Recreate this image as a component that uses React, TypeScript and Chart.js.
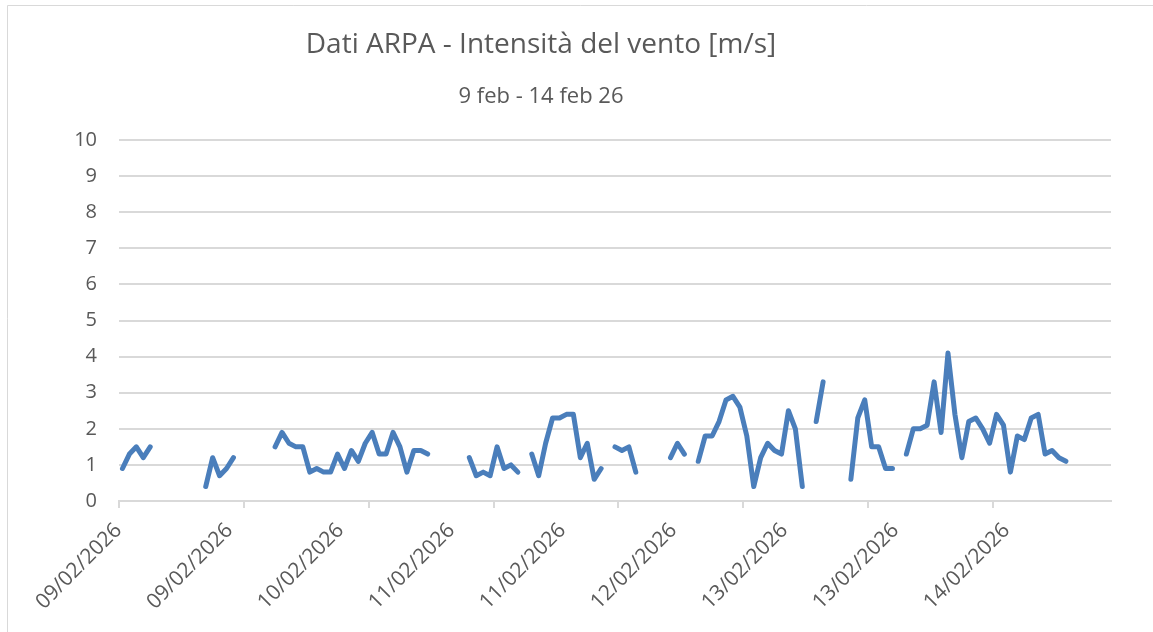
import React, { useEffect, useRef } from 'react';
import { Chart, registerables } from 'chart.js';

Chart.register(...registerables);

const TITLE = 'Dati ARPA - Intensità del vento [m/s]';
const SUBTITLE = '9 feb - 14 feb 26';

const DAYS = ['09/02/2026', '10/02/2026', '11/02/2026', '12/02/2026', '13/02/2026', '14/02/2026'];
const HOURS_PER_DAY = 24;
const CATEGORY_COUNT = 143;
const LABEL_EVERY = 16;
const TICK_EVERY = 18;

const categories: string[] = [];
for (let i = 0; i < CATEGORY_COUNT; i++) {
  categories.push(DAYS[Math.floor(i / HOURS_PER_DAY)]);
}

const windSpeed: (number | null)[] = [
  0.9, 1.3, 1.5, 1.2, 1.5,
  null, null, null, null, null, null, null,
  0.4, 1.2, 0.7, 0.9, 1.2,
  null, null, null, null, null,
  1.5, 1.9, 1.6, 1.5, 1.5, 0.8, 0.9, 0.8, 0.8, 1.3, 0.9, 1.4, 1.1, 1.6, 1.9, 1.3, 1.3, 1.9, 1.5, 0.8, 1.4, 1.4, 1.3,
  null, null, null, null, null,
  1.2, 0.7, 0.8, 0.7, 1.5, 0.9, 1.0, 0.8,
  null,
  1.3, 0.7, 1.6, 2.3, 2.3, 2.4, 2.4, 1.2, 1.6, 0.6, 0.9,
  null,
  1.5, 1.4, 1.5, 0.8,
  null, null, null, null,
  1.2, 1.6, 1.3,
  null,
  1.1, 1.8, 1.8, 2.2, 2.8, 2.9, 2.6, 1.8, 0.4, 1.2, 1.6, 1.4, 1.3, 2.5, 2.0, 0.4,
  null,
  2.2, 3.3,
  null, null, null,
  0.6, 2.3, 2.8, 1.5, 1.5, 0.9, 0.9,
  null,
  1.3, 2.0, 2.0, 2.1, 3.3, 1.9, 4.1, 2.4, 1.2, 2.2, 2.3, 2.0, 1.6, 2.4, 2.1, 0.8, 1.8, 1.7, 2.3, 2.4, 1.3, 1.4, 1.2, 1.1,
  null, null, null, null, null, null,
];

const Y_MIN = 0;
const Y_MAX = 10;
const Y_STEP = 1;

const W = 1153;
const H = 632;
const FONT = "'Open Sans', sans-serif";
const TEXT = '#595959';
const GRID = '#d9d9d9';
const LINE = '#4a7ebb';

const PAD_LEFT = -29;
const PLOT_LEFT = 119;
const PLOT_BOTTOM = 501;

const frame = {
  id: 'frame',
  beforeDraw(chart: any) {
    const c = chart.ctx;
    c.save();
    c.fillStyle = '#ffffff';
    c.fillRect(0, 0, chart.width, chart.height);
    c.strokeStyle = GRID;
    c.lineWidth = 1;
    c.beginPath();
    c.moveTo(7.5, chart.height);
    c.lineTo(7.5, 5.5);
    c.lineTo(chart.width, 5.5);
    c.stroke();
    c.restore();
  },
};

export default function App() {
  const ref = useRef<HTMLCanvasElement | null>(null);

  useEffect(() => {
    if (!ref.current) return;
    const chart = new Chart(ref.current, {
      type: 'line',
      data: {
        labels: categories,
        datasets: [
          {
            label: 'Intensità del vento',
            data: windSpeed,
            borderColor: LINE,
            backgroundColor: LINE,
            borderWidth: 5,
            borderCapStyle: 'round',
            borderJoinStyle: 'round',
            pointRadius: 0,
            pointHoverRadius: 0,
            tension: 0,
            spanGaps: false,
          },
        ],
      },
      plugins: [frame],
      options: {
        responsive: false,
        animation: false,
        layout: { padding: { left: PAD_LEFT, right: 42, top: 0, bottom: 0 } },
        plugins: {
          legend: { display: false },
          tooltip: { enabled: false },
          title: {
            display: true,
            text: TITLE,
            color: TEXT,
            font: { family: FONT, size: 28, weight: 'normal', lineHeight: 1.2 },
            padding: { top: 28, bottom: 0 },
          },
          subtitle: {
            display: true,
            text: SUBTITLE,
            color: TEXT,
            font: { family: FONT, size: 22, weight: 'normal', lineHeight: 1.2 },
            padding: { top: 22, bottom: 30 },
          },
        },
        scales: {
          x: {
            type: 'category',
            offset: true,
            afterFit: (s: any) => {
              s.height = H - PLOT_BOTTOM;
            },
            grid: {
              offset: true,
              drawOnChartArea: false,
              drawTicks: true,
              tickLength: 7,
              lineWidth: 2,
              color: (ctx: any) => (ctx.index % TICK_EVERY === 0 ? GRID : 'rgba(0,0,0,0)'),
            },
            border: { display: true, color: GRID, width: 2 },
            ticks: {
              autoSkip: false,
              maxRotation: 45,
              minRotation: 45,
              padding: 10,
              labelOffset: -4,
              color: TEXT,
              font: { family: FONT, size: 21 },
              callback: (_v: any, i: number) => (i % LABEL_EVERY === 0 ? categories[i] : ''),
            },
          },
          y: {
            min: Y_MIN,
            max: Y_MAX,
            afterFit: (s: any) => {
              s.width = PLOT_LEFT - PAD_LEFT;
            },
            grid: { color: GRID, lineWidth: 2, drawTicks: false },
            border: { display: false },
            ticks: {
              stepSize: Y_STEP,
              padding: 22,
              color: TEXT,
              font: { family: FONT, size: 20 },
            },
          },
        },
      },
    });
    return () => chart.destroy();
  }, []);

  return (
    <div style={{ position: 'absolute', left: 0, top: 0, width: W, height: H, background: '#fff' }}>
      <canvas ref={ref} width={W} height={H} style={{ display: 'block' }} />
    </div>
  );
}
